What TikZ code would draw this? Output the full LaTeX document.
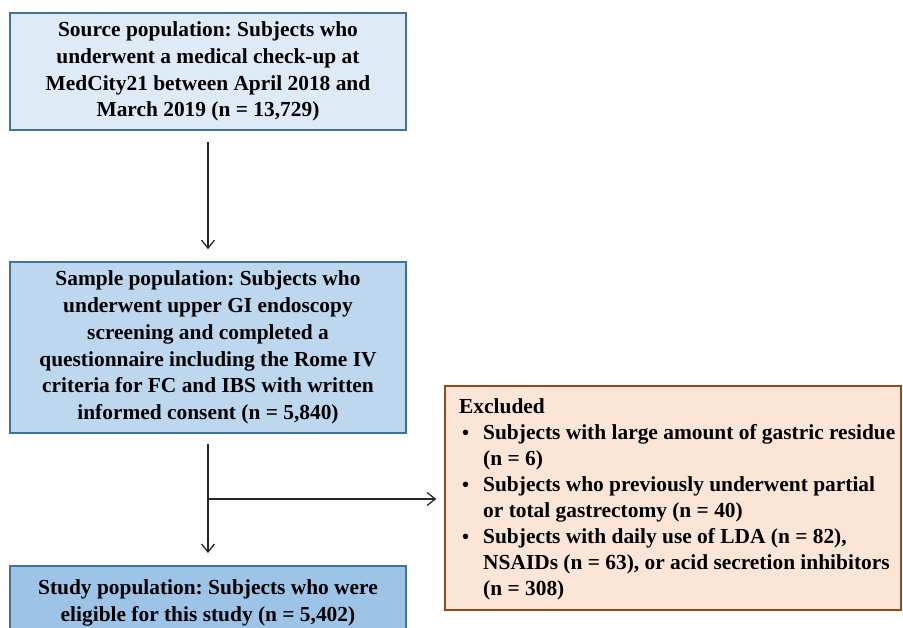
\documentclass[tikz,border=0pt]{standalone}
\usepackage{fontspec}
\setmainfont{Liberation Serif}
\usetikzlibrary{arrows.meta}
\definecolor{fillA}{HTML}{DEEBF7}
\definecolor{fillB}{HTML}{BDD7EE}
\definecolor{fillC}{HTML}{9DC3E6}
\definecolor{borderBlue}{HTML}{41719C}
\definecolor{fillEx}{HTML}{FBE5D6}
\definecolor{borderEx}{HTML}{8F4A1F}
\newcommand{\exbul}{\hspace*{3pt}\makebox[21pt][l]{\raisebox{-0.5pt}{\fontsize{20}{20}\selectfont\textbullet}}}
\begin{document}
\frenchspacing
\begin{tikzpicture}[x=1pt,y=-1pt,
  every node/.style={font=\fontsize{21.4}{26.8}\selectfont\bfseries\frenchspacing},
  bluebox/.style={draw=borderBlue,line width=1.6pt,inner sep=0pt,align=center,minimum width=396pt},
  exbox/.style={draw=borderEx,line width=1.6pt,fill=fillEx,inner sep=0pt,minimum width=456pt,minimum height=224pt},
  conn/.style={draw={black!85},line width=1.3pt,-{Straight Barb[length=8pt,width=13pt,line width=1.3pt]}}]
\useasboundingbox (0,0) rectangle (903,628);
\node[bluebox,fill=fillA,minimum height=117pt] (src) at (208,71.5)
  {Source population: Subjects who\\underwent a medical check-up at\\MedCity21 between April 2018 and\\March 2019 (n = 13,729)};
\node[bluebox,fill=fillB,minimum height=171pt] (smp) at (208,347.5)
  {Sample population: Subjects who\\underwent upper GI endoscopy\\screening and completed a\\questionnaire including the Rome IV\\criteria for FC and IBS with written\\informed consent (n = 5,840)};
\node[bluebox,fill=fillC,minimum height=90pt,anchor=north] (std) at (208,565)
  {};
\node[anchor=center,align=center] (stdtxt) at (208,603)
  {Study population: Subjects who were\\eligible for this study (n = 5,402)};
\node[exbox] (exc) at (673,498) {};
\node[anchor=north west,align=left,inner sep=0pt,font=\fontsize{21.4}{26}\selectfont\bfseries\frenchspacing] (exctxt) at (459,398)
  {Excluded\\
   \exbul Subjects with large amount of gastric residue\\
   \hspace*{24pt}(n = 6)\\
   \exbul Subjects who previously underwent partial\\
   \hspace*{24pt}or total gastrectomy (n = 40)\\
   \exbul Subjects with daily use of LDA (n = 82),\\
   \hspace*{24pt}NSAIDs (n = 63), or acid secretion inhibitors\\
   \hspace*{24pt}(n = 308)};
\coordinate (branch) at (208,499);
\draw[conn,shorten <=11pt,shorten >=12pt] (src.south) -- (smp.north);
\draw[conn,shorten <=10pt,shorten >=12pt] (smp.south) -- (std.north);
\draw[conn,shorten >=8pt] (branch) -- (exc.west |- branch);
\end{tikzpicture}
\end{document}
